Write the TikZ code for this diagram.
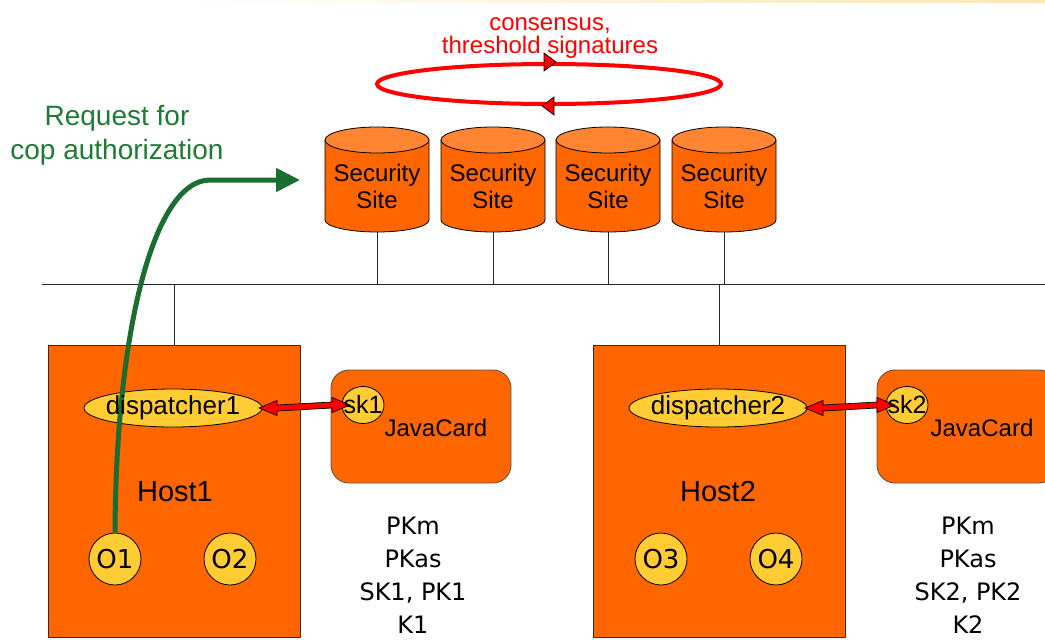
\documentclass[tikz,border=0pt]{standalone}
\usepackage{fontspec}
\setmainfont{Liberation Sans}
\newfontfamily\handfont{DejaVu Sans}
\usetikzlibrary{shapes.geometric,arrows.meta,calc}

\definecolor{siteorange}{HTML}{FF6600}
\definecolor{sitetop}{HTML}{FF8533}
\definecolor{tokenyellow}{HTML}{FFCC33}
\definecolor{boxedge}{HTML}{3A2818}
\definecolor{reqgreen}{HTML}{1E7B36}
\definecolor{arrowgreen}{HTML}{1B6E31}
\definecolor{ringred}{HTML}{FF0000}
\definecolor{topband}{HTML}{F9E7AE}

\tikzset{
  wire/.style={draw=black!85, line width=1},
  hostbox/.style={draw=boxedge, fill=siteorange, line width=0.9, inner sep=0, outer sep=0,
    minimum width=252, minimum height=292, anchor=north west},
  cardbox/.style={draw=boxedge!80, fill=siteorange, line width=0.9, rounded corners=18,
    inner sep=0, outer sep=0, minimum width=180, minimum height=113, anchor=north west},
  token/.style={ellipse, draw=black, fill=tokenyellow, line width=0.8, inner sep=0, outer sep=0},
  obj/.style={circle, draw=black, fill=tokenyellow, line width=0.8, inner sep=0,
    minimum size=52, font=\handfont\fontsize{26}{26}\selectfont},
  lbl/.style={font=\fontsize{#1}{#1}\selectfont, inner sep=0},
  keys/.style={font=\handfont\fontsize{24}{33}\selectfont, align=center, inner sep=0},
  duplex/.style={fill=ringred, draw=black, line width=0.7, line join=miter},
  request/.style={draw=arrowgreen, line width=5, line cap=butt,
    -{Triangle[length=24pt, width=23pt]}},
}

\newcommand\duplexarrow[2]{%
  \filldraw[duplex] (#1) -- ($(#1)+(18,-7.5)$) -- ($(#1)+(18,-3)$)
    -- ($(#2)+(-18,-3)$) -- ($(#2)+(-18,-7.5)$) -- (#2)
    -- ($(#2)+(-18,7.5)$) -- ($(#2)+(-18,3)$)
    -- ($(#1)+(18,3)$) -- ($(#1)+(18,7.5)$) -- cycle;}

\begin{document}
\begin{tikzpicture}[x=1pt, y=-1pt, line join=round]
\useasboundingbox (0,0) rectangle (1045,640);
\clip (0,0) rectangle (1045,640);

% faint band along the upper edge
\shade[left color=white, right color=topband] (180,0) rectangle (1045,2.5);

% consensus ring among the security sites
\node[ellipse, draw=ringred, line width=4, minimum width=344, minimum height=40, inner sep=0] (ring) at (549,84) {};
\filldraw[duplex] ($(ring.north)+(-5,-9)$) -- ($(ring.north)+(7,0)$) -- ($(ring.north)+(-5,9)$) -- cycle;
\filldraw[duplex] ($(ring.south)+(5,-9)$) -- ($(ring.south)+(-7,0)$) -- ($(ring.south)+(5,9)$) -- cycle;
\node[text=ringred, font=\fontsize{24}{23}\selectfont, align=center, inner sep=0] (consensus) at (550,38)
  {consensus,\\threshold signatures};

% request label
\node[text=reqgreen, font=\fontsize{28}{34}\selectfont, align=center, inner sep=0] (reqlbl) at (117,135)
  {Request for\\cop authorization};

% network bus
\coordinate (busL) at (42,284);
\coordinate (busR) at (1045,284);
\draw[wire] (busL) -- (busR);

% security sites (cylinders) hanging on the bus
\foreach \i/\cx in {1/377,2/493,3/608,4/724}{
  \filldraw[fill=siteorange, draw=black, line width=0.8]
    (\cx-52,140) -- (\cx-52,220) arc[start angle=180, end angle=0, x radius=52, y radius=12]
    -- (\cx+52,140) -- cycle;
  \filldraw[fill=sitetop, draw=black, line width=0.8] (\cx,140) ellipse[x radius=52, y radius=13];
  \node[lbl=24, align=center, font=\fontsize{24}{27}\selectfont] (site\i) at (\cx,186) {Security\\Site};
  \coordinate (site\i b) at (\cx,232);
  \draw[wire] (site\i b) -- (site\i b |- busL);
}

% hosts
\node[hostbox] (h1) at (48,345) {};
\node[hostbox] (h2) at (593,345) {};
\draw[wire] (h1.north) -- (h1.north |- busL);
\draw[wire] (h2.north) -- (h2.north |- busL);

% java cards
\node[cardbox] (jc1) at (331,370) {};
\node[cardbox] (jc2) at (877,370) {};
\node[lbl=24] (jc1lbl) at (436,428) {JavaCard};
\node[lbl=24] (jc2lbl) at (982,428) {JavaCard};

% dispatchers and card keys
\node[token, minimum width=178, minimum height=38] (d1) at (173,408) {};
\node[token, minimum width=178, minimum height=38] (d2) at (718,408) {};
\node[token, minimum width=42, minimum height=37] (sk1) at (363,405) {};
\node[token, minimum width=42, minimum height=37] (sk2) at (907,405) {};

% links between dispatcher and card
\duplexarrow{$(d1.east)+(-3,0)$}{$(sk1.west)+(8,0)$}
\duplexarrow{$(d2.east)+(-2,0)$}{$(sk2.west)+(9,0)$}

% objects on the hosts
\node[obj] (o1) at (115,559) {O1};
\node[obj] (o2) at (230,559) {O2};
\node[obj] (o3) at (661,559) {O3};
\node[obj] (o4) at (776,559) {O4};

% authorization request leaving O1
\coordinate (reqtip) at (300,180);
\draw[request] (o1.north) .. controls (116,330) and (154,180) .. (210,180) -- (reqtip);

% labels on top
\node[lbl=26] (d1lbl) at (d1) {dispatcher1};
\node[lbl=26] (d2lbl) at (d2) {dispatcher2};
\node[lbl=25] (sk1lbl) at (sk1) {sk1};
\node[lbl=25] (sk2lbl) at (sk2) {sk2};
\node[lbl=29] (h1lbl) at (175,492) {Host1};
\node[lbl=29] (h2lbl) at (718,492) {Host2};

% key material held per host
\node[keys] (keys1) at (413,575) {PKm\\PKas\\SK1, PK1\\K1};
\node[keys] (keys2) at (968,575) {PKm\\PKas\\SK2, PK2\\K2};
\end{tikzpicture}
\end{document}
